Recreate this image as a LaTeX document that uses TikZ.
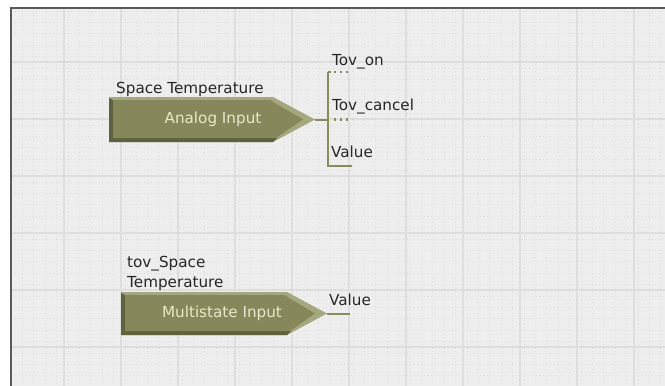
\documentclass[tikz,border=0pt]{standalone}
\usepackage{fontspec}
\setmainfont{DejaVu Sans}
\usetikzlibrary{positioning, calc}

\definecolor{gridbg}{HTML}{EEEEEE}
\definecolor{gridmajor}{HTML}{DEDEDE}
\definecolor{gridminor}{HTML}{DDDDDD}
\definecolor{frameline}{HTML}{5A5A5A}
\definecolor{olivelight}{HTML}{A6A77F}
\definecolor{olivedark}{HTML}{60613F}
\definecolor{oliveface}{HTML}{86875A}
\definecolor{olivewire}{HTML}{8A8B5C}
\definecolor{olivetext}{HTML}{E8E9CB}

\begin{document}
\begin{tikzpicture}[
		x=1pt, y=-1pt,
		lbl/.style={anchor=base west, inner sep=0pt, font=\fontsize{15.2}{18}\selectfont, text=black!85},
		face/.style={inner sep=0pt, font=\fontsize{15.2}{18}\selectfont, text=olivetext},
		wire/.style={draw=olivewire, line width=2pt},
		stub/.style={draw=olivewire, line width=2.2pt, dash pattern=on 2.2pt off 3.8pt},
		major/.style={draw=gridmajor, line width=1.6pt},
		minor/.style={draw=gridminor, line width=0.8pt, dash pattern=on 1pt off 2.5pt}
		]
		
		\useasboundingbox (0,0) rectangle (665,386);
		
		% 1. Canvas with grid
		\fill[gridbg] (11,8) rectangle (665,386);
		\foreach \i in {0,...,57} {
			\draw[minor] ({11+11.4*\i},8) -- ({11+11.4*\i},386);
		}
		\foreach \j in {0,...,33} {
			\draw[minor] (11,{11+11.4*\j}) -- (665,{11+11.4*\j});
		}
		\foreach \i in {0,...,10} {
			\draw[major] ({64+57*\i},8) -- ({64+57*\i},386);
		}
		\foreach \j in {0,...,5} {
			\draw[major] (11,{62+57*\j}) -- (665,{62+57*\j});
		}
		\draw[frameline, line width=1.5pt] (11,386) -- (11,8) -- (665,8);
		
		% 2. Analog Input block
		\fill[olivelight] (109,97) -- (273,97) -- (315,119.5) -- (273,142) -- (109,142) -- cycle;
		\fill[olivedark] (109,98) -- (113,100) -- (113,138) -- (277,138) -- (273,142) -- (109,142) -- cycle;
		\fill[oliveface] (113,100) -- (270,100) -- (303,119.5) -- (276,138) -- (113,138) -- cycle;
		\node[face] (ai) at (213,119.5) {Analog Input};
		\coordinate (ai tip) at (315,119.5);
		\node[lbl] (ai name) at (116,93) {Space Temperature};
		
		% 3. Outputs of the analog input
		\coordinate (bus top) at (328,72);
		\coordinate (bus mid) at (328,119.5);
		\coordinate (bus bot) at (328,166);
		\coordinate (on end) at (352,72);
		\coordinate (cancel end) at (352,119.5);
		\coordinate (value end) at (352,166);
		\draw[wire] (ai tip) -- (bus mid);
		\draw[wire] (bus top) -- (bus bot) -- (value end);
		\draw[wire] (bus top) -- ++(3,0);
		\draw[stub] ($(bus top)+(6,0)$) -- (on end);
		\draw[stub] ($(bus mid)+(6,0)$) -- (cancel end);
		\node[lbl] (ai on) at (332,65) {Tov\_on};
		\node[lbl] (ai cancel) at (332,110) {Tov\_cancel};
		\node[lbl] (ai value) at (331,157) {Value};
		
		% 4. Multistate Input block
		\fill[olivelight] (121,292) -- (287,292) -- (327,313.5) -- (287,335) -- (121,335) -- cycle;
		\fill[olivedark] (121,293) -- (125,295) -- (125,331) -- (291,331) -- (287,335) -- (121,335) -- cycle;
		\fill[oliveface] (125,295) -- (284,295) -- (315,313.5) -- (290,331) -- (125,331) -- cycle;
		\node[face] (mi) at (222,313.5) {Multistate Input};
		\coordinate (mi tip) at (327,313.5);
		\coordinate (mi end) at (350,313.5);
		\node[lbl] (mi name) at (127,267) {tov\_Space};
		\node[lbl] (mi name2) at (127,287) {Temperature};
		
		% 5. Output of the multistate input
		\draw[wire] (mi tip) -- (mi end);
		\node[lbl] (mi value) at (329,305) {Value};
		
	\end{tikzpicture}
\end{document}
